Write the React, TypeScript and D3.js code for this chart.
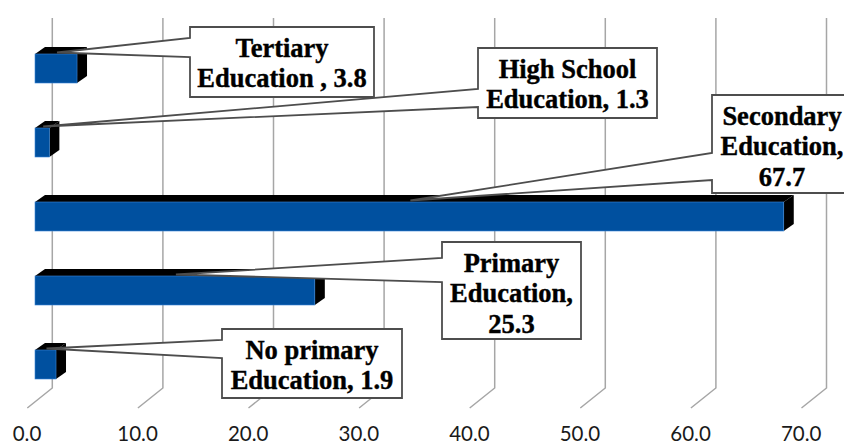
import React from "react";
import * as d3 from "d3";

const categories = [
  "Tertiary Education",
  "High School Education",
  "Secondary Education",
  "Primary Education",
  "No primary Education",
];
const values = [3.8, 1.3, 67.7, 25.3, 1.9];
const labelLines = [
  ["Tertiary", "Education , 3.8"],
  ["High School", "Education, 1.3"],
  ["Secondary", "Education,", "67.7"],
  ["Primary", "Education,", "25.3"],
  ["No primary", "Education, 1.9"],
];
const tickValues = [0, 10, 20, 30, 40, 50, 60, 70];

// callout box layout: x, y, w, h, wedge top, wedge bottom
const calloutLayout = [
  { x: 190, y: 27, w: 184, h: 70, wt: 38, wb: 57 },
  { x: 478, y: 48, w: 179, h: 70, wt: 89, wb: 107 },
  { x: 712, y: 95, w: 140, h: 98, wt: 153, wb: 180 },
  { x: 442, y: 242, w: 139, h: 97, wt: 258, wb: 282 },
  { x: 222, y: 329, w: 180, h: 69, wt: 340, wb: 358 },
];

const W = 844;
const H = 446;
const DX = 10;
const DY = 7;

export default function App() {
  const x = d3.scaleLinear().domain([0, 70]).range([35, 809.2]);
  const y = d3
    .scaleBand<string>()
    .domain(categories)
    .range([31.5, 401.5])
    .paddingInner(0.608)
    .paddingOuter(0.304);
  const bw = y.bandwidth();
  const wallTop = 18;
  const wallBottom = 388;

  return (
    <svg
      width={W}
      height={H}
      style={{ position: "absolute", left: 0, top: 0, background: "#fff" }}
    >
      {/* gridlines */}
      {tickValues.map((t) => {
        const bx = x(t) + 17.3;
        return (
          <path
            key={"g" + t}
            d={`M${bx},${wallTop}L${bx},${wallBottom}L${bx - 25},${wallBottom + 20}`}
            fill="none"
            stroke="#a6a6a6"
            strokeWidth={1.5}
          />
        );
      })}
      {/* tick labels */}
      {tickValues.map((t) => (
        <text
          key={"t" + t}
          x={x(t) - 8}
          y={441}
          textAnchor="middle"
          fontFamily="Lato, 'Open Sans', sans-serif"
          fontSize={20.5}
          fill="#1a1a1a"
        >
          {t.toFixed(1)}
        </text>
      ))}
      {/* bars */}
      {categories.map((c, i) => {
        const top = y(c)!;
        const bot = top + bw;
        const x0 = x(0);
        const xv = x(values[i]);
        return (
          <g key={"b" + c}>
            <path
              d={`M${x0},${top}L${x0 + DX},${top - DY}L${xv + DX},${top - DY}L${xv},${top}Z`}
              fill="#000"
            />
            <path
              d={`M${xv},${top}L${xv + DX},${top - DY}L${xv + DX},${bot - DY}L${xv},${bot}Z`}
              fill="#000"
            />
            <rect
              x={x0}
              y={top}
              width={xv - x0}
              height={bw}
              fill="#00509F"
              stroke="#3b86d6"
              strokeWidth={0.6}
            />
          </g>
        );
      })}
      {/* callouts */}
      {categories.map((c, i) => {
        const L = calloutLayout[i];
        const tipX = (x(0) + x(values[i])) / 2 + 1;
        const tipY = y(c)! - 1.5;
        const d = `M${L.x},${L.y}L${L.x + L.w},${L.y}L${L.x + L.w},${L.y + L.h}L${L.x},${L.y + L.h}L${L.x},${L.wb}L${tipX},${tipY}L${L.x},${L.wt}Z`;
        const lines = labelLines[i];
        return (
          <g key={"c" + c}>
            <path d={d} fill="#fff" stroke="#4d4d4d" strokeWidth={1.8} strokeLinejoin="miter" />
            {lines.map((ln, j) => (
              <text
                key={j}
                x={L.x + L.w / 2}
                y={L.y + 29.5 + 30.5 * j}
                textAnchor="middle"
                fontFamily="'Liberation Serif', 'Times New Roman', serif"
                fontWeight="bold"
                fontSize={26.5}
                stroke="#000"
                strokeWidth={0.4}
                fill="#000"
              >
                {ln}
              </text>
            ))}
          </g>
        );
      })}
    </svg>
  );
}
